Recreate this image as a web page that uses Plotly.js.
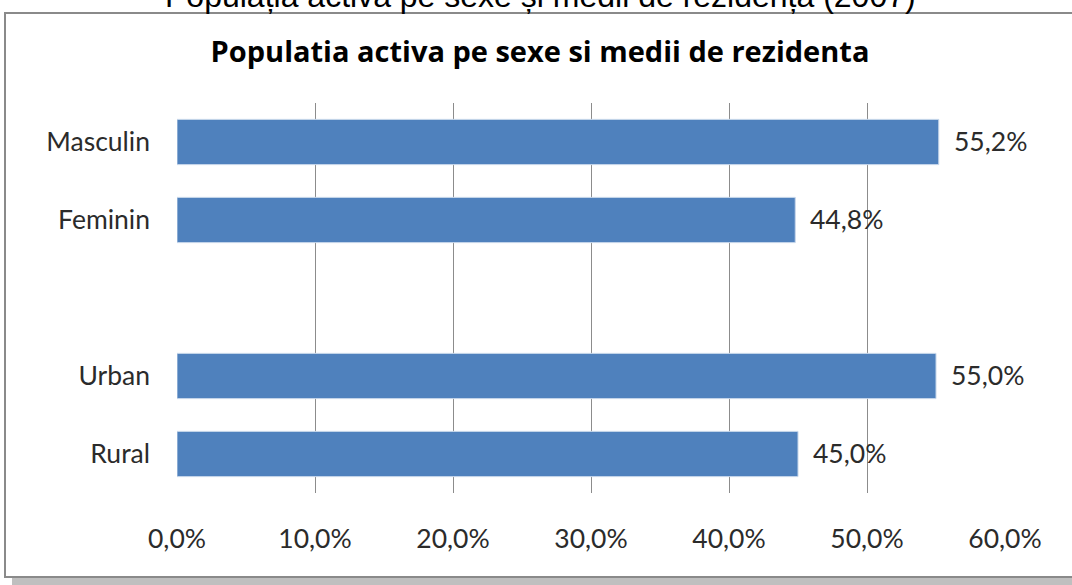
<!DOCTYPE html>
<html>
<head>
<meta charset="utf-8">
<script src="https://cdn.plot.ly/plotly-3.0.1.min.js"></script>
<style>
  body { margin: 0; background: #fff; overflow: hidden; }
  #frame {
    position: absolute; left: 4px; top: 12px; width: 1090px; height: 562px;
    border: 2px solid #8a8a8a; background: #fff;
    box-shadow: 8px 8px 0 #bfbfbf;
  }
  #myDiv { position: absolute; left: 0; top: 0; width: 1072px; height: 585px; }
</style>
</head>
<body>
<div id="frame"></div>
<div id="myDiv"></div>
<script>
// categories, top to bottom (blank slot separates the two groups)
var categories = ['Masculin', 'Feminin', ' ', 'Urban', 'Rural'];
var values = [55.2, 44.8, null, 55.0, 45.0];
var valueLabels = ['55,2%', '44,8%', '', '55,0%', '45,0%'];
var tickVals = [0, 10, 20, 30, 40, 50, 60];
var tickText = ['0,0%', '10,0%', '20,0%', '30,0%', '40,0%', '50,0%', '60,0%'];

var labelFont = {family: 'Lato, Carlito, sans-serif', size: 26.5, color: '#2b2b2b'};

var trace1 = {
    y: categories,
    x: values,
    type: 'bar',
    orientation: 'h',
    marker: {
        color: '#4f81bd',
        line: {color: '#c6d6ea', width: 1}
    },
    hoverinfo: 'skip'
};

var annotations = [];
for (var i = 0; i < categories.length; i++) {
    if (values[i] === null) continue;
    annotations.push({
        x: values[i], y: categories[i], xref: 'x', yref: 'y',
        text: valueLabels[i], showarrow: false,
        xanchor: 'left', xshift: 13, yshift: 1,
        font: labelFont
    });
}
// page heading, cut off above the chart frame as in the source
annotations.push({
    x: (540 - 177) / 828, y: 1, xref: 'paper', yref: 'paper', yshift: 107,
    text: 'Populația activă pe sexe și medii de rezidență (2007)',
    showarrow: false, xanchor: 'center', yanchor: 'middle',
    font: {family: 'Liberation Sans, Arial, sans-serif', size: 32, color: '#000'}
});

var layout = {
    width: 1072,
    height: 585,
    margin: {l: 177, r: 67, t: 103, b: 92},
    paper_bgcolor: 'rgba(0,0,0,0)',
    plot_bgcolor: 'rgba(0,0,0,0)',
    showlegend: false,
    bargap: 0.42,
    title: {
        text: '<b>Populatia activa pe sexe si medii de rezidenta</b>',
        x: 540 / 1072, xref: 'container', xanchor: 'center',
        y: 1 - 52 / 585, yanchor: 'middle',
        font: {family: 'Open Sans, sans-serif', size: 29, color: '#000'}
    },
    xaxis: {
        range: [0, 60],
        tickvals: tickVals,
        ticktext: tickText,
        showgrid: true,
        gridcolor: '#8c8c8c',
        gridwidth: 1,
        zeroline: false,
        showline: false,
        ticks: '',
        ticklabelstandoff: 27,
        tickfont: labelFont,
        fixedrange: true
    },
    yaxis: {
        type: 'category',
        categoryorder: 'array',
        categoryarray: categories,
        autorange: 'reversed',
        showgrid: false,
        zeroline: false,
        showline: false,
        ticks: '',
        ticklabelstandoff: 26,
        tickfont: labelFont,
        fixedrange: true
    },
    annotations: annotations
};

Plotly.newPlot('myDiv', [trace1], layout, {displayModeBar: false, staticPlot: true});
</script>
</body>
</html>
